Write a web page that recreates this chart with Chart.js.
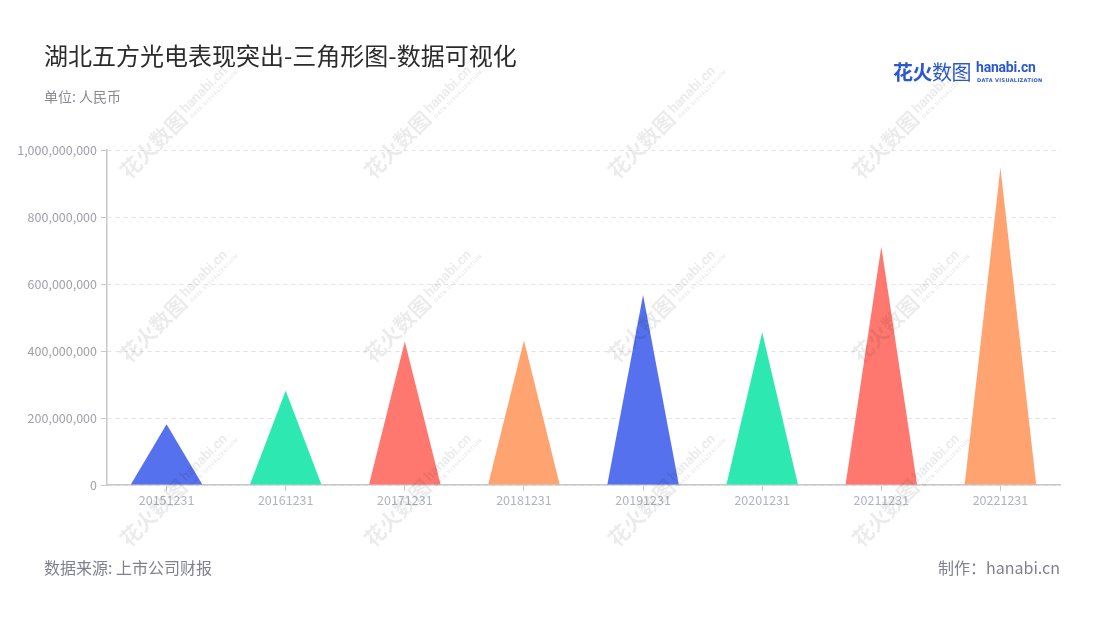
<!DOCTYPE html>
<html>
<head>
<meta charset="utf-8">
<script src="https://cdn.jsdelivr.net/npm/chart.js@4/dist/chart.umd.min.js"></script>
<style>
  html, body { margin: 0; padding: 0; background: #fff; }
  body { width: 1100px; height: 620px; position: relative; overflow: hidden; font-family: "Noto Sans CJK SC", "Noto Sans", sans-serif; }
  #wrap { position: absolute; left: 0; top: 0; width: 1100px; height: 620px; }
  .txt { position: absolute; white-space: nowrap; }
  #title { left: 44px; top: 41px; font-size: 24px; line-height: 28px; color: #2b2b2b; }
  #sub { left: 44px; top: 88px; font-size: 14px; line-height: 16px; color: #8a8a96; }
  #src { left: 44px; top: 557px; font-size: 16px; line-height: 20px; color: #80808e; }
  #made { right: 40px; top: 557px; font-size: 16px; line-height: 20px; color: #80808e; }
  #logo { position: absolute; left: 893px; top: 58px; width: 170px; height: 28px; white-space: nowrap; }
  #logo span { white-space: nowrap; }
  #logo .cn { position: absolute; left: 0; top: 0; font-size: 20px; line-height: 28px; font-weight: 700; color: #2b58cf; letter-spacing: -0.5px; }
  #logo .cn i { font-style: normal; font-weight: 400; }
  #logo .en { position: absolute; left: 83px; top: 0px; font-size: 14px; line-height: 18px; font-weight: 700; color: #2b58cf; font-family: Roboto, sans-serif; letter-spacing: -0.2px; }
  #logo .dv { position: absolute; left: 84px; top: 19px; font-size: 5px; line-height: 6px; font-weight: 700; color: #2b58cf; letter-spacing: 0.35px; font-family: "DejaVu Sans", sans-serif; }
  .wm { position: absolute; transform-origin: 0 100%; transform: rotate(-45deg); white-space: nowrap; pointer-events: none; color: rgba(0,0,0,0.08); font-weight: 700; height: 26px; width: 170px; }
  .wm span { white-space: nowrap; }
  .wm .a { position: absolute; left: 0; top: 0; font-size: 21px; line-height: 26px; }
  .wm .b { position: absolute; left: 87px; top: 1px; font-size: 14px; line-height: 18px; font-family: Roboto, sans-serif; letter-spacing: -0.2px; }
  .wm .c { position: absolute; left: 88px; top: 18px; font-size: 5px; line-height: 6px; letter-spacing: 0.35px; font-family: "DejaVu Sans", sans-serif; }
</style>
</head>
<body>
<div id="wrap"><canvas id="c" width="1100" height="620"></canvas></div>
<div class="txt" id="title">湖北五方光电表现突出-三角形图-数据可视化</div>
<div class="txt" id="sub">单位: 人民币</div>
<div class="txt" id="src">数据来源: 上市公司财报</div>
<div class="txt" id="made">制作：hanabi.cn</div>
<div id="logo"><span class="cn">花火<i>数图</i></span><span class="en">hanabi.cn</span><span class="dv">DATA VISUALIZATION</span></div>
<div id="wms"></div>
<script>
const categories = ['20151231','20161231','20171231','20181231','20191231','20201231','20211231','20221231'];
const values = [181000000, 281000000, 428000000, 431000000, 567000000, 456000000, 711000000, 948000000];
const palette = ['#5571EE', '#2DE8B0', '#FF7870', '#FFA370'];
const yTicks = [0, 200000000, 400000000, 600000000, 800000000, 1000000000];

// watermarks
(function(){
  const host = document.getElementById('wms');
  for (let j = 0; j < 3; j++) {
    for (let i = 0; i < 4; i++) {
      const d = document.createElement('div');
      d.className = 'wm';
      d.style.left = (132 + 244 * i) + 'px';
      d.style.top = (183 + 184 * j - 26) + 'px';
      d.innerHTML = '<span class="a">花火数图</span><span class="b">hanabi.cn</span><span class="c">DATA VISUALIZATION</span>';
      host.appendChild(d);
    }
  }
})();

const trianglePlugin = {
  id: 'triangles',
  afterDatasetsDraw(chart) {
    const ctx = chart.ctx;
    const meta = chart.getDatasetMeta(0);
    ctx.save();
    meta.data.forEach((el, i) => {
      const p = el.getProps(['x', 'y', 'base', 'width'], true);
      ctx.beginPath();
      ctx.moveTo(p.x - p.width / 2, p.base);
      ctx.lineTo(p.x, p.y);
      ctx.lineTo(p.x + p.width / 2, p.base);
      ctx.closePath();
      ctx.fillStyle = palette[i % palette.length];
      ctx.fill();
    });
    ctx.restore();
  }
};

new Chart(document.getElementById('c'), {
  type: 'bar',
  data: {
    labels: categories,
    datasets: [{
      label: '金额',
      data: values,
      backgroundColor: 'rgba(0,0,0,0)',
      borderWidth: 0,
      categoryPercentage: 1,
      barPercentage: 0.6
    }]
  },
  options: {
    responsive: false,
    animation: false,
    devicePixelRatio: 1,
    layout: { padding: { top: 150, right: 40, bottom: 0, left: 0 } },
    plugins: { legend: { display: false }, tooltip: { enabled: false }, title: { display: false } },
    scales: {
      x: {
        offset: true,
        afterFit: s => { s.height = 135; },
        grid: { offset: false, drawOnChartArea: false, drawTicks: true, tickLength: 6, tickColor: '#c8c8c8' },
        border: { display: true, color: '#c8c8c8', width: 1.5 },
        ticks: { color: '#b0b3c0', font: { family: 'Noto Sans CJK SC', size: 12.5 }, padding: 2, maxRotation: 0 }
      },
      y: {
        min: 0,
        max: 1000000000,
        afterFit: s => { s.width = 107; },
        afterBuildTicks: s => { s.ticks = yTicks.map(v => ({ value: v })); },
        grid: { color: '#e3e3e3', lineWidth: 1, drawTicks: true, tickLength: 6, tickColor: '#c8c8c8', tickBorderDash: [] },
        border: { display: true, color: '#c8c8c8', width: 1.5, dash: [4, 4] },
        ticks: {
          color: '#a0a0aa',
          font: { family: 'Noto Sans CJK SC', size: 12.5 },
          padding: 4,
          callback: v => Number(v).toLocaleString('en-US')
        }
      }
    }
  },
  plugins: [trianglePlugin]
});
</script>
</body>
</html>
